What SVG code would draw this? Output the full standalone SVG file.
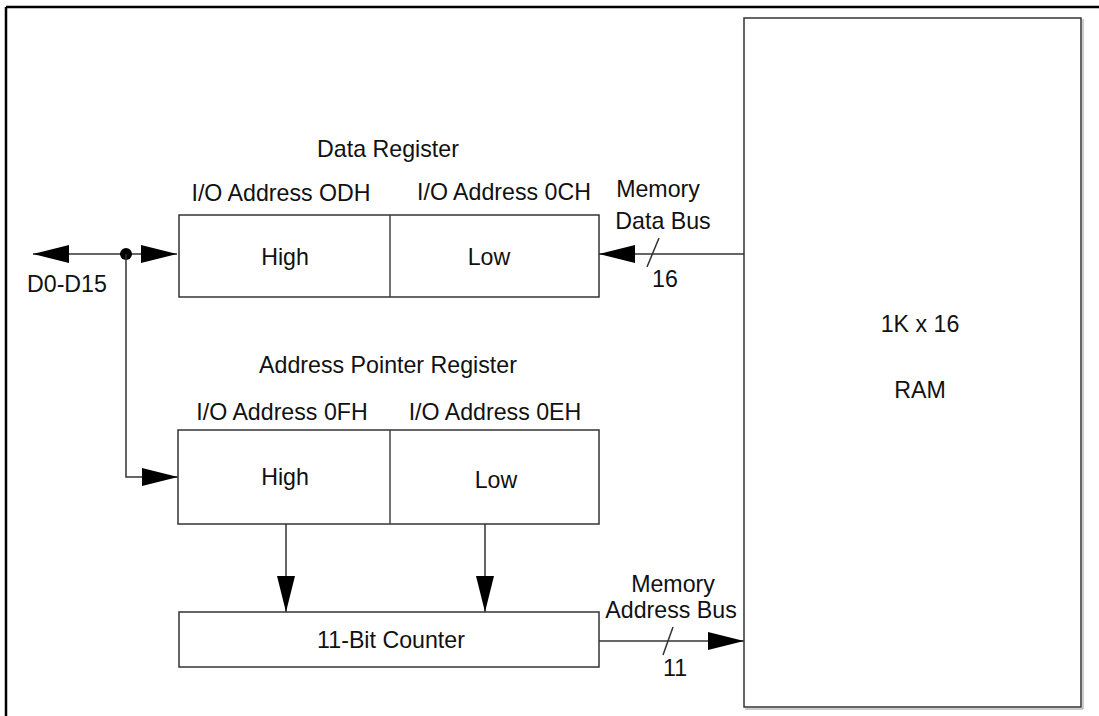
<svg xmlns="http://www.w3.org/2000/svg" width="1099" height="716" viewBox="0 0 1099 716">
  <defs>
    <marker id="arrow" markerUnits="userSpaceOnUse" markerWidth="36" markerHeight="18" refX="36" refY="9" orient="auto">
      <path d="M0,0 L36,9 L0,18 Z" fill="#000"/>
    </marker>
    <marker id="arrowStart" markerUnits="userSpaceOnUse" markerWidth="36" markerHeight="18" refX="0" refY="9" orient="auto">
      <path d="M36,0 L0,9 L36,18 Z" fill="#000"/>
    </marker>
  </defs>
  <style>
    text { font-family: "Liberation Sans", Arial, sans-serif; font-size: 23.2px; fill: #111; text-anchor: middle; }
    .box { fill: #fff; stroke: #333; stroke-width: 1.5; }
    .div { stroke: #444; stroke-width: 1.5; }
    .wire { fill: none; stroke: #333; stroke-width: 1.5; }
    .frame { stroke: #000; stroke-width: 2.5; }
  </style>
  <rect width="1099" height="716" fill="#fff"/>

  <!-- open page frame: top and left rules -->
  <g id="frame">
    <line class="frame" x1="6" y1="7" x2="1099" y2="7"/>
    <line class="frame" x1="6" y1="7" x2="6" y2="716"/>
  </g>

  <!-- connectors -->
  <g id="connectors">
    <!-- D0-D15 bidirectional bus -->
    <line class="wire" x1="33" y1="254" x2="177" y2="254" marker-start="url(#arrowStart)" marker-end="url(#arrow)"/>
    <circle cx="126" cy="254" r="6" fill="#000"/>
    <polyline class="wire" points="126,254 126,477 178,477" marker-end="url(#arrow)"/>
    <!-- memory data bus: RAM to data register -->
    <line class="wire" x1="744" y1="254" x2="599" y2="254" marker-end="url(#arrow)"/>
    <line class="wire" x1="659" y1="238" x2="647" y2="267"/>
    <!-- pointer register to counter -->
    <line class="wire" x1="286" y1="524" x2="286" y2="612" marker-end="url(#arrow)"/>
    <line class="wire" x1="485" y1="524" x2="485" y2="612" marker-end="url(#arrow)"/>
    <!-- memory address bus: counter to RAM -->
    <line class="wire" x1="599" y1="641" x2="744" y2="641" marker-end="url(#arrow)"/>
    <line class="wire" x1="673" y1="627" x2="663" y2="655"/>
  </g>

  <!-- bus labels -->
  <g id="bus-labels">
    <text x="27" y="292" style="text-anchor:start">D0-D15</text>
    <text x="658" y="197">Memory</text>
    <text x="663" y="229">Data Bus</text>
    <text x="665" y="287">16</text>
    <text x="673" y="592">Memory</text>
    <text x="671" y="618">Address Bus</text>
    <text x="675" y="676">11</text>
  </g>

  <g id="data-register">
    <text x="388" y="157">Data Register</text>
    <text x="281" y="201">I/O Address ODH</text>
    <text x="504" y="200">I/O Address 0CH</text>
    <rect class="box" x="179" y="215" width="420" height="82"/>
    <line class="div" x1="390" y1="215" x2="390" y2="297"/>
    <text x="285" y="265">High</text>
    <text x="489" y="265">Low</text>
  </g>

  <g id="address-pointer-register">
    <text x="388" y="373">Address Pointer Register</text>
    <text x="282" y="420">I/O Address 0FH</text>
    <text x="495" y="420">I/O Address 0EH</text>
    <rect class="box" x="178" y="430" width="421" height="94"/>
    <line class="div" x1="390" y1="430" x2="390" y2="524"/>
    <text x="285" y="485">High</text>
    <text x="496" y="488">Low</text>
  </g>

  <g id="counter">
    <rect class="box" x="179" y="612" width="420" height="55"/>
    <text x="391" y="648">11-Bit Counter</text>
  </g>

  <g id="ram">
    <rect class="box" x="744" y="18" width="337" height="689"/>
    <polyline fill="none" stroke="#999" stroke-width="1" points="1083,19 1083,709 745,709"/>
    <text x="920" y="332">1K x 16</text>
    <text x="920" y="398">RAM</text>
  </g>
</svg>
